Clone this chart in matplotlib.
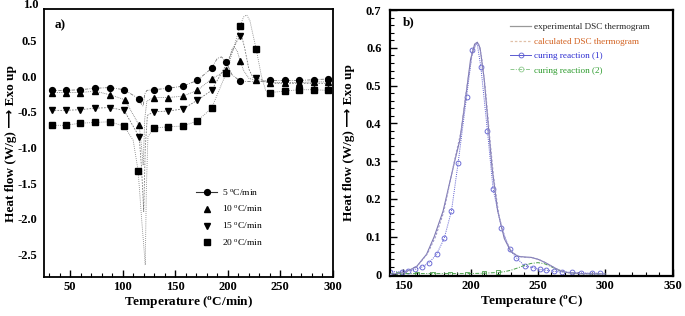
import matplotlib
matplotlib.use("Agg")
import matplotlib.pyplot as plt
from matplotlib.lines import Line2D
from matplotlib.ticker import MultipleLocator, FuncFormatter
import numpy as np

plt.rcParams['font.family'] = ['Liberation Serif', 'DejaVu Sans']
plt.rcParams['mathtext.fontset'] = 'custom'
plt.rcParams['mathtext.rm'] = 'Liberation Serif'
plt.rcParams['mathtext.bf'] = 'Liberation Serif:bold'
plt.rcParams['axes.unicode_minus'] = False

# ---------------- panel a) data ----------------
rate_labels = ["5 $^\\mathrm{o}$C/min", "10 $^\\mathrm{o}$C/min", "15 $^\\mathrm{o}$C/min", "20 $^\\mathrm{o}$C/min"]

m5_T = [32.4, 45.9, 59.6, 73.7, 87.5, 101.3, 115.7, 129.5, 143, 157.4, 170.8, 184.6, 198.4, 211.8, 240, 254, 268, 281.7, 295.5]
m5_H = [-0.20, -0.20, -0.19, -0.17, -0.16, -0.19, -0.32, -0.19, -0.17, -0.14, -0.06, 0.11, 0.20, -0.07, -0.06, -0.06, -0.06, -0.05, -0.04]
x5_T = [118.0, 119.5, 121.0, 123.0, 190.0, 194.0, 204.0, 227.0]
x5_H = [-0.40, -0.42, -0.25, -0.20, 0.25, 0.27, 0.02, -0.08]

m10_T = [32.4, 45.9, 59.6, 73.7, 87.5, 102, 115.7, 129.5, 143, 157.4, 170.8, 184.6, 198.4, 211.8, 227, 240, 254, 268, 281.7, 295.5]
m10_H = [-0.23, -0.23, -0.23, -0.21, -0.26, -0.33, -0.69, -0.30, -0.30, -0.28, -0.20, -0.04, 0.08, 0.21, -0.06, -0.09, -0.09, -0.09, -0.08, -0.08]
x10_T = [118.0, 119.5, 121.0, 123.0, 204.0, 206.0, 209.0, 215.0, 220.0]
x10_H = [-1.00, -1.25, -0.60, -0.35, 0.38, 0.41, 0.35, 0.08, -0.03]

m15_T = [32.4, 45.9, 59.6, 73.7, 87.5, 101.3, 115.7, 129.5, 143, 157.4, 170.8, 184.6, 211.8, 227, 240, 254, 268, 281.7, 295.5]
m15_H = [-0.48, -0.48, -0.47, -0.45, -0.44, -0.48, -0.85, -0.50, -0.49, -0.46, -0.34, -0.20, 0.57, -0.02, -0.10, -0.10, -0.10, -0.10, -0.10]
x15_T = [118.0, 120.0, 121.5, 123.5, 198.0, 209.0, 212.5, 216.0, 220.0, 224.0]
x15_H = [-1.30, -1.90, -1.00, -0.55, 0.15, 0.50, 0.60, 0.40, 0.10, -0.02]

m20_T = [32.4, 45.9, 59.6, 73.7, 87.5, 101.3, 114.7, 129.5, 143, 157.4, 170.8, 184.6, 198.4, 211.8, 227, 240, 254, 268, 281.7, 295.5]
m20_H = [-0.69, -0.69, -0.66, -0.65, -0.64, -0.70, -1.33, -0.73, -0.71, -0.70, -0.63, -0.45, 0.04, 0.71, 0.38, -0.23, -0.21, -0.19, -0.19, -0.20]
x20_T = [110.0, 118.0, 121.5, 122.5, 124.0, 215.0, 218.0, 221.0, 232.0, 236.0]
x20_H = [-0.90, -2.00, -2.65, -1.60, -0.85, 0.83, 0.86, 0.78, 0.00, -0.20]

# ---------------- panel b) data ----------------
exp_T = [140, 151, 160, 167.3, 173, 179.6, 187.8, 192, 196, 200, 203, 205, 207, 210, 213, 216, 220, 225, 230, 235, 240, 245, 250, 255, 260, 265, 270, 280, 300]
exp_H = [0.0, 0.005, 0.021, 0.053, 0.10, 0.168, 0.294, 0.355, 0.46, 0.57, 0.61, 0.615, 0.60, 0.52, 0.40, 0.28, 0.17, 0.095, 0.06, 0.048, 0.046, 0.045, 0.040, 0.032, 0.022, 0.012, 0.006, 0.002, 0.001]

calc_T = [140, 152, 160, 168, 174, 180, 188, 193, 197, 201, 204, 206, 208, 211, 214, 217, 221, 226, 231, 236, 241, 246, 251, 256, 261, 266, 271, 280, 300]
calc_H = [0.0, 0.006, 0.020, 0.055, 0.10, 0.165, 0.30, 0.38, 0.49, 0.58, 0.612, 0.61, 0.58, 0.49, 0.37, 0.26, 0.155, 0.09, 0.058, 0.047, 0.045, 0.044, 0.039, 0.030, 0.020, 0.011, 0.005, 0.002, 0.001]

r1_T = [140, 148.8, 153.7, 158.7, 163.6, 169.3, 174.7, 180.4, 185.8, 190.7, 197.0, 201.4, 204.8, 207.6, 212.5, 216.7, 222.9, 229.0, 234.0, 240.1, 246.3, 251.3, 256.2, 262, 268, 275, 282, 290, 296]
r1_H = [0.007, 0.007, 0.009, 0.013, 0.019, 0.031, 0.053, 0.095, 0.168, 0.294, 0.47, 0.594, 0.613, 0.55, 0.38, 0.226, 0.124, 0.066, 0.044, 0.022, 0.018, 0.013, 0.011, 0.008, 0.006, 0.005, 0.004, 0.003, 0.003]

r2_T = [140, 146, 160, 172, 185, 197, 210, 220, 225, 230, 235, 240, 245, 250, 255, 260, 265, 270, 275, 280, 290, 300]
r2_H = [0.002, 0.002, 0.002, 0.002, 0.002, 0.002, 0.003, 0.005, 0.007, 0.011, 0.017, 0.024, 0.029, 0.031, 0.028, 0.020, 0.012, 0.006, 0.003, 0.002, 0.001, 0.001]

b_labels = ["experimental DSC thermogram", "calculated DSC thermogram", "curing reaction (1)", "curing reaction (2)"]
b_text_colors = ["#222222", "#d2601e", "#2a2ad0", "#2a9a2a"]

# ---------------- figure ----------------
fig = plt.figure(figsize=(6.85, 3.16), dpi=100)
axA = fig.add_axes([0.064, 0.123, 0.422, 0.848])
axB = fig.add_axes([0.569, 0.127, 0.413, 0.841])

markers = ['o', '^', 'v', 's']
styles = [(0, (4, 1.5, 1, 1.5)), (0, (1, 1.2)), (0, (2, 1.5)), (0, (1, 1.5))]
series = [(m5_T, m5_H, x5_T, x5_H), (m10_T, m10_H, x10_T, x10_H),
          (m15_T, m15_H, x15_T, x15_H), (m20_T, m20_H, x20_T, x20_H)]
for (mT, mH, xT, xH), mk, ls in zip(series, markers, styles):
    T = np.array(list(mT) + list(xT))
    H = np.array(list(mH) + list(xH))
    order = np.argsort(T)
    axA.plot(T[order], H[order], color='#777777', lw=0.6, ls=ls, zorder=2)
    axA.plot(mT, mH, ls='none', marker=mk, color='black', ms=4.2, zorder=3)

axA.set_xlim(25, 300)
axA.set_ylim(-2.82, 0.94)
axA.xaxis.set_major_locator(MultipleLocator(50))
axA.xaxis.set_minor_locator(MultipleLocator(10))
axA.yaxis.set_major_locator(MultipleLocator(0.5))
axA.yaxis.set_major_formatter(FuncFormatter(lambda v, p: f"{v:.1f}"))
axA.tick_params(axis='x', which='major', direction='in', length=5, width=1.0, labelsize=9, pad=3)
axA.tick_params(axis='x', which='minor', direction='in', length=3, width=0.8)
axA.tick_params(axis='y', which='both', length=0, labelsize=9, pad=5)
axA.set_xticks([50, 100, 150, 200, 250, 300])
for lab in axA.get_xticklabels() + axA.get_yticklabels():
    lab.set_fontweight('bold')
axA.text(-0.017, 1.0, "1.0", transform=axA.get_yaxis_transform(), ha='right', va='center',
         fontsize=9, fontweight='bold', clip_on=False)
for sp in axA.spines.values():
    sp.set_linewidth(1.3)
axA.set_xlabel("Temperature ($^\\mathbf{o}$C/min)", fontsize=9.5, fontweight='bold', labelpad=1)
axA.set_ylabel("Heat flow (W/g) \u27f6 Exo up", fontsize=9.5, fontweight='bold', labelpad=0)
axA.text(0.038, 0.94, "a)", transform=axA.transAxes, fontsize=9.5, fontweight='bold', va='center')

hA = [Line2D([], [], color='#333333', lw=0.8, marker='o', ms=4.2, markerfacecolor='black', markeredgecolor='black')]
for mk in markers[1:]:
    hA.append(Line2D([], [], ls='none', marker=mk, ms=4.2, color='black'))
legA = axA.legend(hA, rate_labels, loc='upper left', bbox_to_anchor=(0.515, 0.35), frameon=False,
                  fontsize=6.8, handlelength=2.2, labelspacing=0.63, handletextpad=0.5, borderaxespad=0)

# panel b
axB.plot(exp_T, exp_H, color='#7d78b0', lw=0.8, ls='-', zorder=3)
axB.plot(calc_T, calc_H, color='#9a94c8', lw=0.8, ls=(0, (2, 1.5)), zorder=3)
mark1 = [i for i in range(len(r1_T)) if i != 12]
axB.plot(r1_T, r1_H, color='#5a5ad0', lw=0.7, ls=(0, (1, 1.2)), marker='o', ms=3.5,
         markerfacecolor='none', markeredgewidth=0.6, markevery=mark1, zorder=2)
axB.plot(r2_T, r2_H, color='#4aa04a', lw=0.7, ls=(0, (4, 1.5, 1, 1.5)), marker='s', ms=3,
         markerfacecolor='none', markeredgewidth=0.6, markevery=[1, 2, 3, 4, 5, 6, 7], zorder=2)

axB.set_xlim(140, 350)
axB.set_ylim(-0.004, 0.7)
axB.xaxis.set_major_locator(MultipleLocator(50))
axB.xaxis.set_minor_locator(MultipleLocator(10))
axB.yaxis.set_major_locator(MultipleLocator(0.1))
axB.yaxis.set_minor_locator(MultipleLocator(0.02))
axB.yaxis.set_major_formatter(FuncFormatter(lambda v, p: f"{round(v, 2):g}"))
axB.tick_params(which='major', direction='in', length=5, width=1.0, labelsize=9)
axB.tick_params(axis='x', which='major', pad=3)
axB.tick_params(axis='y', which='major', pad=6)
axB.tick_params(which='minor', direction='in', length=3, width=0.8)
for lab in axB.get_xticklabels() + axB.get_yticklabels():
    lab.set_fontweight('bold')
for sp in axB.spines.values():
    sp.set_linewidth(1.6)
axB.set_xlabel("Temperature ($^\\mathbf{o}$C)", fontsize=9.5, fontweight='bold', labelpad=1)
axB.set_ylabel("Heat flow (W/g) \u27f6 Exo up", fontsize=9.5, fontweight='bold', labelpad=8)
axB.text(0.046, 0.955, "b)", transform=axB.transAxes, fontsize=9.5, fontweight='bold', va='center')

hB = [Line2D([], [], color='#999999', lw=0.9, ls='-'),
      Line2D([], [], color='#e0c0a8', lw=0.9, ls=(0, (2, 1.5))),
      Line2D([], [], color='#5a5ad0', lw=0.7, marker='o', ms=3.5, markerfacecolor='none', markeredgewidth=0.6),
      Line2D([], [], color='#8fca8f', lw=0.7, ls=(0, (4, 1.5, 1, 1.5)), marker='o', ms=3.5, markerfacecolor='none', markeredgewidth=0.6)]
legB = axB.legend(hB, b_labels, loc='upper left', bbox_to_anchor=(0.413, 0.965), frameon=False,
                  fontsize=6.6, handlelength=2.3, labelspacing=0.65, handletextpad=0.3, borderaxespad=0)
for t, c in zip(legB.get_texts(), b_text_colors):
    t.set_color(c)

fig.savefig("out.png", dpi=100)
